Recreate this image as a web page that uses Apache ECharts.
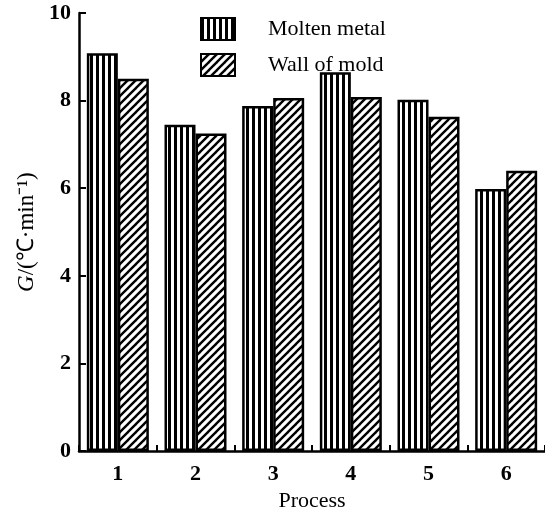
<!DOCTYPE html>
<html>
<head>
<meta charset="utf-8">
<script src="https://cdn.jsdelivr.net/npm/echarts@6/dist/echarts.min.js"></script>
<style>html,body{margin:0;padding:0;background:#fff;}#c{width:545px;height:517px;}</style>
</head>
<body>
<div id="c"></div>
<script>
var categories = ['1', '2', '3', '4', '5', '6'];
var moltenMetal = [9.08, 7.45, 7.88, 8.65, 8.02, 5.98];
var wallOfMold = [8.50, 7.25, 8.06, 8.08, 7.63, 6.40];
var yTicks = [0, 2, 4, 6, 8, 10];

function stripePattern() {
  var c = document.createElement('canvas');
  c.width = 6; c.height = 4;
  var g = c.getContext('2d');
  g.fillStyle = '#fff'; g.fillRect(0, 0, 6, 4);
  g.fillStyle = '#000'; g.fillRect(0, 0, 3, 4);
  return c;
}
function hatchPattern() {
  var s = 8;
  var c = document.createElement('canvas');
  c.width = s; c.height = s;
  var g = c.getContext('2d');
  g.fillStyle = '#fff'; g.fillRect(0, 0, s, s);
  g.strokeStyle = '#000'; g.lineWidth = 2.4;
  for (var k = -1; k <= 1; k++) {
    g.beginPath();
    g.moveTo(k * s - 1, s + 1);
    g.lineTo(k * s + s + 1, -1);
    g.stroke();
  }
  return c;
}

var font = 'Liberation Serif';
var chart = echarts.init(document.getElementById('c'));
chart.setOption({
  animation: false,
  backgroundColor: '#fff',
  grid: { left: 79, right: 0, top: 13, bottom: 60 },
  legend: {
    left: 195, top: 12, orient: 'vertical', icon: 'rect',
    itemWidth: 34, itemHeight: 22, itemGap: 12,
    textStyle: { fontFamily: font, fontSize: 22, color: '#000', padding: [0, 0, 0, 28] },
    data: ['Molten metal', 'Wall of mold']
  },
  xAxis: {
    type: 'category', data: categories,
    name: 'Process', nameLocation: 'middle', nameGap: 36,
    nameTextStyle: { fontFamily: font, fontSize: 22, color: '#000' },
    axisLine: { lineStyle: { color: '#000', width: 2.5 } },
    axisTick: { show: true, inside: true, interval: 0, alignWithLabel: false, length: 6, lineStyle: { color: '#000', width: 2 } },
    axisLabel: { fontFamily: font, fontSize: 22, fontWeight: 'bold', color: '#000', margin: 12 }
  },
  yAxis: {
    type: 'value', min: 0, max: 10, interval: 2,
    name: '{i|G}/(℃·min⁻¹)', nameLocation: 'middle', nameGap: 38,
    nameTextStyle: { fontFamily: font, fontSize: 23, color: '#000',
      rich: { i: { fontFamily: font, fontStyle: 'italic', fontSize: 23, color: '#000' } } },
    axisLine: { show: true, lineStyle: { color: '#000', width: 2.5 } },
    axisTick: { show: true, inside: true, length: 7, lineStyle: { color: '#000', width: 2 } },
    splitLine: { show: false },
    axisLabel: { fontFamily: font, fontSize: 22, fontWeight: 'bold', color: '#000', margin: 8,
      formatter: function (v) { return yTicks.indexOf(v) >= 0 ? String(v) : ''; } }
  },
  series: [
    { name: 'Molten metal', type: 'bar', data: moltenMetal, barWidth: 31, barGap: '0%',
      itemStyle: { color: { image: stripePattern(), repeat: 'repeat' }, borderColor: '#000', borderWidth: 2.5 } },
    { name: 'Wall of mold', type: 'bar', data: wallOfMold, barWidth: 31, barGap: '0%',
      itemStyle: { color: { image: hatchPattern(), repeat: 'repeat' }, borderColor: '#000', borderWidth: 2.5 } }
  ]
});
</script>
</body>
</html>
